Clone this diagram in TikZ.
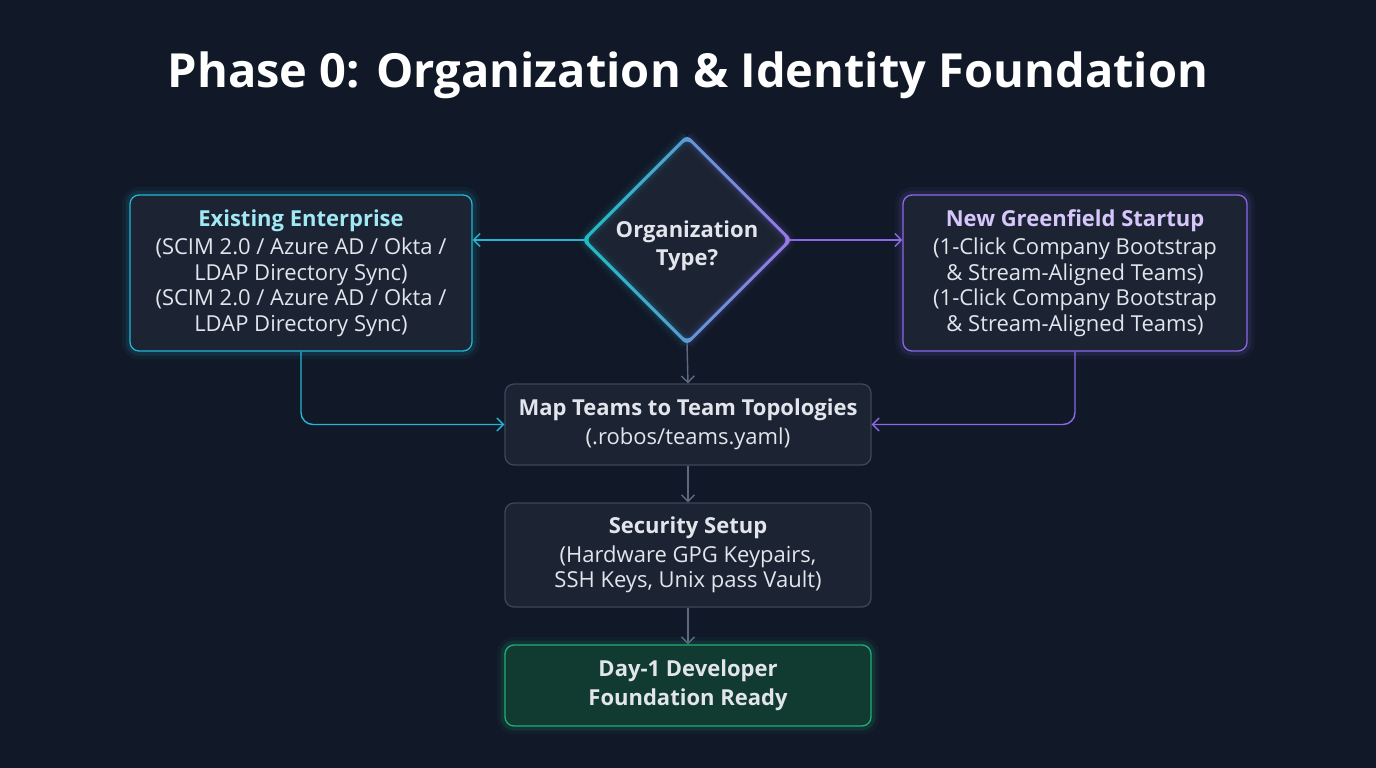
\documentclass[tikz,border=0pt]{standalone}
\usepackage{fontspec}
\setmainfont{Open Sans}
\usepackage{xcolor}
\usetikzlibrary{shapes.geometric,arrows.meta,calc}

\definecolor{bgnavy}{RGB}{17,25,40}
\definecolor{boxfill}{RGB}{28,36,51}
\definecolor{cyanline}{RGB}{34,182,214}
\definecolor{violetline}{RGB}{140,104,232}
\definecolor{grayedge}{RGB}{60,71,89}
\definecolor{grayarrow}{RGB}{92,106,128}
\definecolor{greenedge}{RGB}{32,176,118}
\definecolor{greenfill}{RGB}{17,58,49}
\definecolor{bodytext}{RGB}{226,230,236}
\definecolor{cyanhead}{RGB}{160,232,244}
\definecolor{violethead}{RGB}{214,198,252}

\begin{document}
\begin{tikzpicture}[x=1pt,y=-1pt,
  box/.style={draw, rounded corners=9pt, line width=1.3pt, fill=boxfill,
    align=center, text=bodytext, font=\fontsize{22}{25.5}\selectfont,
    inner sep=0pt},
  entbox/.style={box, draw=cyanline, minimum width=342, minimum height=156,
    preaction={draw=cyanline, line width=9pt, draw opacity=.10},
    preaction={draw=cyanline, line width=16pt, draw opacity=.05}},
  gfbox/.style={box, draw=violetline, minimum width=344, minimum height=156,
    preaction={draw=violetline, line width=9pt, draw opacity=.10},
    preaction={draw=violetline, line width=16pt, draw opacity=.05}},
  stepbox/.style={box, draw=grayedge, minimum width=366},
  donebox/.style={box, draw=greenedge, fill=greenfill, minimum width=366,
    minimum height=81,
    preaction={draw=greenedge, line width=9pt, draw opacity=.12},
    preaction={draw=greenedge, line width=16pt, draw opacity=.06}},
  link/.style={line width=1.4pt, -{Straight Barb[length=6.5pt,width=13pt]}},
]
\fill[bgnavy] (0,0) rectangle (1376,768);
\useasboundingbox (0,0) rectangle (1376,768);

% title
\node[text=white, font=\fontsize{47}{56}\selectfont\bfseries] (title) at (688,75)
  {Phase 0: Organization \& Identity Foundation};

% decision
\node[diamond, aspect=1, minimum width=206, minimum height=206, inner sep=0pt,
  fill=boxfill, align=center, text=bodytext,
  font=\fontsize{22}{28}\selectfont\bfseries] (org) at (687,240)
  {\rule{0pt}{29pt}Organization\\Type?};
\foreach \w/\o in {14/.05, 8/.10} {
  \draw[line width=\w pt, draw opacity=\o, cyanline, rounded corners=6pt]
    (org.north) -- (org.west) -- (org.south);
  \draw[line width=\w pt, draw opacity=\o, violetline, rounded corners=6pt]
    (org.north) -- (org.east) -- (org.south);
}
\shade[left color=cyanline!90!green, right color=violetline!90!white,
  even odd rule, rounded corners=6pt]
  ($(org.north)+(0,-2.2)$) -- ($(org.east)+(2.2,0)$) -- ($(org.south)+(0,2.2)$)
    -- ($(org.west)+(-2.2,0)$) -- cycle
  ($(org.north)+(0,2.2)$) -- ($(org.east)+(-2.2,0)$) -- ($(org.south)+(0,-2.2)$)
    -- ($(org.west)+(2.2,0)$) -- cycle;

% the two entry paths
\node[entbox] (ent) at (301,273)
  {{\bfseries\color{cyanhead}Existing Enterprise}\\[3pt]
   (SCIM 2.0 / Azure AD / Okta /\\LDAP Directory Sync)\\
   (SCIM 2.0 / Azure AD / Okta /\\LDAP Directory Sync)};
\node[gfbox] (gf) at (1075,273)
  {{\bfseries\color{violethead}New Greenfield Startup}\\[3pt]
   (1-Click Company Bootstrap\\\& Stream-Aligned Teams)\\
   (1-Click Company Bootstrap\\\& Stream-Aligned Teams)};

% common steps
\node[stepbox, minimum height=81] (map) at (688,424.5)
  {{\bfseries Map Teams to Team Topologies}\\[3pt](.robos/teams.yaml)};
\node[stepbox, minimum height=104] (sec) at (688,555)
  {{\bfseries Security Setup}\\[3pt](Hardware GPG Keypairs,\\SSH Keys, Unix pass Vault)};
\node[donebox] (day) at (688,685.5)
  {\bfseries Day-1 Developer\\[3pt]\bfseries Foundation Ready};

% connectors
\draw[link, cyanline] (org.west) -- (org.west -| ent.east);
\draw[link, violetline] (org.east) -- (org.east -| gf.west);
\draw[link, cyanline, rounded corners=12pt] (ent.south) |- (map.west);
\draw[link, violetline, rounded corners=12pt] (gf.south) |- (map.east);
\draw[link, grayarrow] (org.south) -- (map.north);
\draw[link, grayarrow] (map) -- (sec);
\draw[link, grayarrow] (sec) -- (day);
\end{tikzpicture}
\end{document}
